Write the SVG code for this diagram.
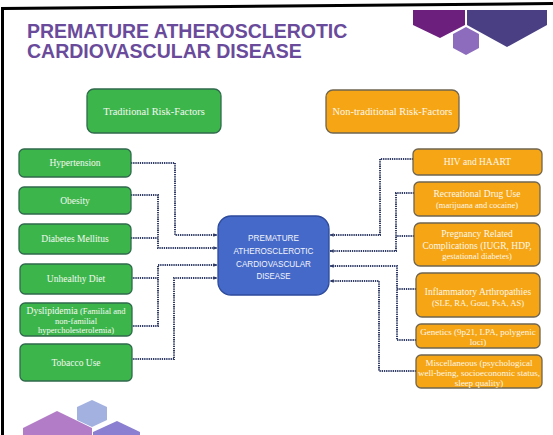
<svg xmlns="http://www.w3.org/2000/svg" width="553" height="435" viewBox="0 0 553 435">
<defs>
<style>
.g rect{fill:#3cb64b;stroke:#2f6a4c;stroke-width:1.3}
.o rect{fill:#f6a514;stroke:#6f6550;stroke-width:1.3}
.g text,.o text{font-family:"Liberation Serif","Times New Roman",serif;fill:#f4f8f2;text-anchor:middle;font-size:9.5px}
.o text{fill:#fff8ea}
.g .sm,.o .sm{font-size:8.5px}
.g .hd,.o .hd{font-size:10.4px}
.c rect{fill:#4569c8;stroke:#2d4a9c;stroke-width:1.3}
.c text{font-family:"Liberation Sans",Arial,sans-serif;fill:#f2f4fb;text-anchor:middle;font-size:9.5px}
.title{font-family:"Liberation Sans",Arial,sans-serif;font-weight:bold;font-size:19.5px;fill:#6a4b9b}
#connectors path{fill:none;stroke:#2f3b66;stroke-width:2;stroke-dasharray:1.3 0.9}
</style>
<marker id="ah" viewBox="0 0 6 6" refX="5.5" refY="3" markerWidth="4" markerHeight="4" orient="auto" markerUnits="userSpaceOnUse">
<path d="M0,0.5 L6,3 L0,5.5 Z" fill="#2f3b66"/>
</marker>
</defs>
<rect width="553" height="435" fill="#ffffff"/>
<g id="frame">
<polygon points="0,7 553,2 553,5 4,10 4,435 1,435 1,7" fill="#000"/>
</g>
<g id="deco">
<polygon points="413,10 465,10 465,25 440,38 413,25" fill="#6c1f7c"/>
<polygon points="467,10 547,10 547,25 507,47 467,25" fill="#4b3f84"/>
<polygon points="466,27 479,34 479,48 466,55 453,48 453,34" fill="#8d6cbd"/>
<polygon points="92,400 107,407 107,420 92,427 77,420 77,407" fill="#a3b1e1"/>
<polygon points="57,411 92,428 92,435 23,435 23,428" fill="#b27dc6"/>
<polygon points="117,421 140,432 140,435 93,435 93,432" fill="#8a7fd0"/>
</g>
<g id="title">
<text class="title" x="27" y="38">PREMATURE ATHEROSCLEROTIC</text>
<text class="title" x="27" y="58">CARDIOVASCULAR DISEASE</text>
</g>
<g id="connectors">
<path d="M131,163 H175 V235 H217" marker-end="url(#ah)"/>
<path d="M131,195 H158 V248 H217" marker-end="url(#ah)"/>
<path d="M131,238 H158"/>
<path d="M131,278 H158"/>
<path d="M131,326 H158 V265 H217" marker-end="url(#ah)"/>
<path d="M131,359 H174 V278 H217" marker-end="url(#ah)"/>
<path d="M413,159 H380 V235 H330" marker-end="url(#ah)"/>
<path d="M414,193 H396 V251 H330" marker-end="url(#ah)"/>
<path d="M414,236 H396"/>
<path d="M416,289 H397"/>
<path d="M416,340 H397 V266 H330" marker-end="url(#ah)"/>
<path d="M416,371 H379 V281 H330" marker-end="url(#ah)"/>
</g>
<g id="n-trad" class="g"><rect x="87" y="89" width="134" height="44" rx="7"/><text class="hd" x="154" y="115">Traditional Risk-Factors</text></g>
<g id="n-htn" class="g"><rect x="19" y="149" width="112" height="28" rx="5"/><text x="75" y="166">Hypertension</text></g>
<g id="n-obesity" class="g"><rect x="19" y="187" width="112" height="27" rx="5"/><text x="75" y="204">Obesity</text></g>
<g id="n-dm" class="g"><rect x="19" y="224" width="112" height="30" rx="5"/><text x="75" y="242">Diabetes Mellitus</text></g>
<g id="n-diet" class="g"><rect x="20" y="264" width="112" height="30" rx="5"/><text x="76" y="282">Unhealthy Diet</text></g>
<g id="n-dys" class="g"><rect x="20" y="303" width="112" height="33" rx="5"/><text x="76" y="313.5"><tspan>Dyslipidemia</tspan><tspan class="sm"> (Familial and</tspan></text><text class="sm" x="76" y="323.5">non-familial</text><text class="sm" x="76" y="333">hypercholesterolemia)</text></g>
<g id="n-tob" class="g"><rect x="20" y="344" width="112" height="37" rx="5"/><text x="76" y="366">Tobacco Use</text></g>
<g id="n-center" class="c"><rect x="218" y="216" width="111" height="79" rx="13"/>
<text x="273.5" y="241" textLength="51" lengthAdjust="spacingAndGlyphs">PREMATURE</text>
<text x="273.5" y="254" textLength="80" lengthAdjust="spacingAndGlyphs">ATHEROSCLEROTIC</text>
<text x="273.5" y="266.5" textLength="75" lengthAdjust="spacingAndGlyphs">CARDIOVASCULAR</text>
<text x="273.5" y="279" textLength="34" lengthAdjust="spacingAndGlyphs">DISEASE</text></g>
<g id="n-nontrad" class="o"><rect x="326" y="90" width="133" height="43" rx="7"/><text class="hd" x="392.5" y="115">Non-traditional Risk-Factors</text></g>
<g id="n-hiv" class="o"><rect x="413" y="149" width="129" height="26" rx="5"/><text x="477.5" y="165">HIV and HAART</text></g>
<g id="n-drug" class="o"><rect x="414" y="182" width="126" height="34" rx="5"/><text x="477" y="197">Recreational Drug Use</text><text class="sm" x="477" y="208">(marijuana and cocaine)</text></g>
<g id="n-preg" class="o"><rect x="414" y="223" width="126" height="43" rx="6"/><text x="477" y="237">Pregnancy Related</text><text x="477" y="249">Complications (IUGR, HDP,</text><text class="sm" x="477" y="259">gestational diabetes)</text></g>
<g id="n-infl" class="o"><rect x="416" y="273" width="124" height="44" rx="6"/><text x="478" y="295">Inflammatory Arthropathies</text><text x="478" y="305.5" style="font-size:8.6px">(SLE, RA, Gout, PsA, AS)</text></g>
<g id="n-gen" class="o"><rect x="416" y="324" width="124" height="24" rx="5"/><text x="478" y="335" style="font-size:9px">Genetics (9p21, LPA, polygenic</text><text x="478" y="344.5" style="font-size:9px">loci)</text></g>
<g id="n-misc" class="o"><rect x="416" y="355" width="126" height="33" rx="5"/><text x="479" y="366" style="font-size:9px">Miscellaneous (psychological</text><text x="479" y="376" style="font-size:9px">well-being, socioeconomic status,</text><text x="479" y="385.5" style="font-size:9px">sleep quality)</text></g>
</svg>
